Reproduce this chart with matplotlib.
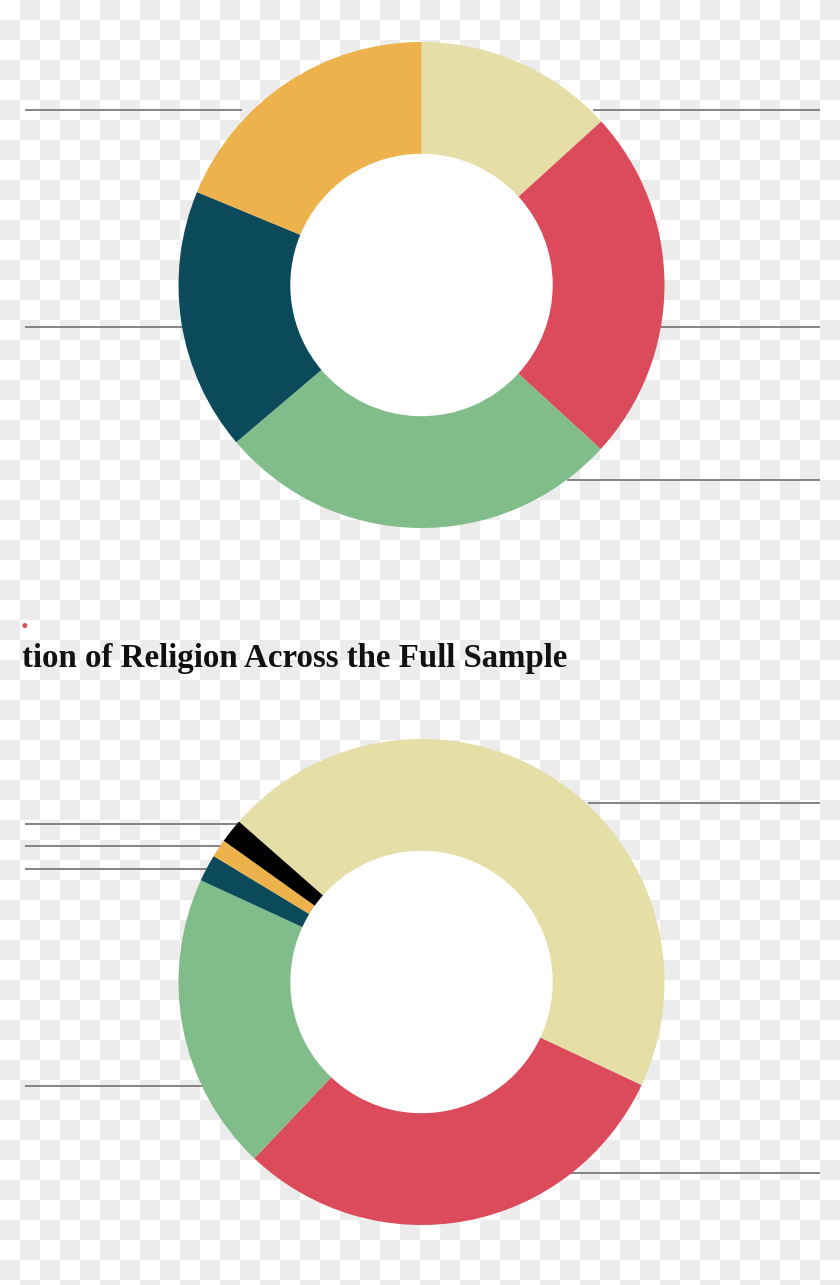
import numpy as np
import matplotlib
matplotlib.use("Agg")
import matplotlib.pyplot as plt

top_values = [13.25, 23.55, 27.0, 17.45, 18.75]
bottom_values = [45.5, 30.1, 19.8, 1.8, 1.2, 1.6]

beige = '#e5dea6'
red = '#db4b5b'
green = '#80bd8a'
teal = '#0b4a5a'
orange = '#eeb24c'
black = '#000000'
top_colors = [beige, red, green, teal, orange]
bottom_colors = [beige, red, green, teal, orange, black]

# only this part of the title survives the crop
title = 'tion of Religion Across the Full Sample'

# leader lines left over from the cropped labels: (y, x0, x1) in pixels
top_leaders = [(110, 25, 242), (327, 25, 200), (110, 593, 820), (327, 640, 820), (480, 567, 820)]
bottom_leaders = [(803, 588, 820), (1173, 570, 820), (824, 25, 245), (845.5, 25, 240),
                  (869, 25, 235), (1085.5, 25, 215)]

W, H = 840, 1285
fig = plt.figure(figsize=(W / 100, H / 100), dpi=100)

# background: checkerboard of a transparent png, 20 px squares
bg = fig.add_axes([0, 0, 1, 1])
bg.axis('off')
cols, rows = W // 20 + 1, H // 20 + 1
board = (np.add.outer(np.arange(rows), np.arange(cols)) % 2).astype(float)
bg.imshow(board, cmap=matplotlib.colors.ListedColormap(['#ffffff', '#ececec']),
          extent=(0, cols * 20, rows * 20, 0), interpolation='nearest', zorder=0)
bg.set_xlim(0, W)
bg.set_ylim(H, 0)

for y, x0, x1 in top_leaders + bottom_leaders:
    bg.plot([x0, x1], [y, y], color='#7a7a7a', lw=1.3, zorder=1, solid_capstyle='butt')

# title: fit its width to the span seen in the reference (x 22..567)
t = bg.text(22, 667, title, fontsize=20, fontweight='bold', family='Liberation Serif',
            ha='left', va='baseline', color='#111111')
fig.canvas.draw()
w = t.get_window_extent().width
t.set_fontsize(20 * 545 / w)

bg.text(25, 628, '.', fontsize=22, fontweight='bold', family='Liberation Serif',
        ha='center', va='baseline', color=red)


def donut(cx, cy, values, colors, start):
    r = 243
    ax = fig.add_axes([(cx - r) / W, (H - cy - r) / H, 2 * r / W, 2 * r / H])
    ax.pie(values, colors=colors, startangle=start, counterclock=False, radius=1,
           wedgeprops=dict(width=0.46, edgecolor='none', linewidth=0))
    ax.add_patch(plt.Circle((0, 0), 0.54, color='white', zorder=0))
    ax.set_xlim(-1, 1)
    ax.set_ylim(-1, 1)
    ax.set_aspect('equal')
    ax.axis('off')
    return ax


donut(421.5, 285, top_values, top_colors, 90)
donut(421.5, 982, bottom_values, bottom_colors, 90 - 311.3)

fig.savefig('out.png', dpi=100)
